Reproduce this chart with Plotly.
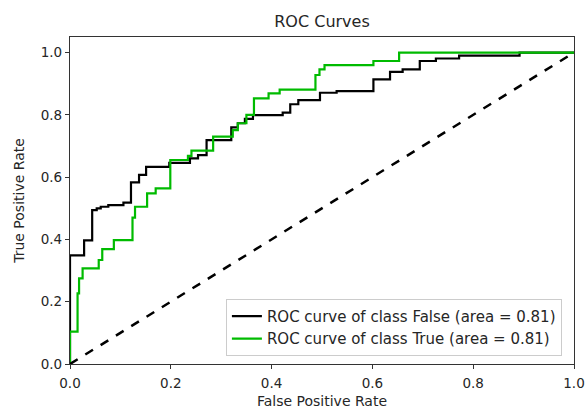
import plotly.graph_objects as go

# ROC curve of class False
fpr_false = [0, 0, 0.028, 0.044, 0.053, 0.061, 0.076, 0.106, 0.121, 0.137, 0.151, 0.197,
             0.238, 0.254, 0.271, 0.32, 0.333, 0.347, 0.363, 0.422, 0.437, 0.453, 0.496,
             0.529, 0.602, 0.635, 0.66, 0.694, 0.726, 0.772, 0.892, 1.0]
tpr_false = [0, 0.349, 0.397, 0.494, 0.5, 0.505, 0.51, 0.518, 0.583, 0.607, 0.633, 0.646,
             0.66, 0.671, 0.719, 0.76, 0.773, 0.787, 0.799, 0.807, 0.834, 0.847, 0.871,
             0.876, 0.914, 0.938, 0.946, 0.973, 0.981, 0.99, 1.0, 1.0]

# ROC curve of class True
fpr_true = [0, 0, 0.015, 0.018, 0.025, 0.057, 0.064, 0.087, 0.124, 0.129, 0.153, 0.17,
            0.199, 0.234, 0.241, 0.284, 0.323, 0.333, 0.35, 0.365, 0.394, 0.416, 0.487,
            0.495, 0.505, 0.602, 0.653, 1.0]
tpr_true = [0, 0.104, 0.227, 0.275, 0.307, 0.334, 0.369, 0.398, 0.47, 0.505, 0.548, 0.564,
            0.655, 0.668, 0.685, 0.73, 0.751, 0.773, 0.8, 0.853, 0.869, 0.881, 0.928,
            0.946, 0.96, 0.973, 1.0, 1.0]

diag = [0, 1]
names = ["ROC curve of class False (area = 0.81)", "ROC curve of class True (area = 0.81)"]
colors = ["#000000", "#00bb00"]
ticks = [0, 0.2, 0.4, 0.6, 0.8, 1.0]
tick_text = ["0.0", "0.2", "0.4", "0.6", "0.8", "1.0"]

fig = go.Figure()
fig.add_trace(go.Scatter(x=fpr_false, y=tpr_false, mode="lines", line_shape="hv",
                         line=dict(color=colors[0], width=2.2), name=names[0]))
fig.add_trace(go.Scatter(x=fpr_true, y=tpr_true, mode="lines", line_shape="hv",
                         line=dict(color=colors[1], width=2.2), name=names[1]))
fig.add_trace(go.Scatter(x=diag, y=diag, mode="lines",
                         line=dict(color="#000000", width=2.5, dash="dash"),
                         showlegend=False))

W, H = 586, 410
font_family = "DejaVu Sans"
fig.update_layout(
    width=W, height=H,
    margin=dict(l=70, r=12, t=37, b=46, autoexpand=False),
    paper_bgcolor="white", plot_bgcolor="white",
    font=dict(family=font_family, size=13.5, color="#262626"),
    title=dict(text="ROC Curves", x=(70 + 574) / 2 / W, xanchor="center",
               y=1 - 21 / H, yanchor="middle", yref="container",
               font=dict(size=16, color="#262626")),
    showlegend=True,
    legend=dict(x=0.976, y=0.025, xanchor="right", yanchor="bottom",
                bgcolor="rgba(255,255,255,0.8)", bordercolor="#cccccc", borderwidth=1,
                font=dict(size=15, color="#262626"), tracegroupgap=0,
                itemwidth=30),
)
fig.update_xaxes(range=[0, 1], tickvals=ticks, ticktext=tick_text, automargin=False,
                 showgrid=False, zeroline=False, showline=True, mirror=True,
                 linecolor="#333333", linewidth=1.2, ticks="outside", ticklen=4,
                 tickcolor="#333333", ticklabelstandoff=3,
                 title=dict(text="False Positive Rate", standoff=5, font=dict(size=14)))
fig.update_yaxes(range=[0, 1.05], tickvals=ticks, ticktext=tick_text, automargin=False,
                 showgrid=False, zeroline=False, showline=True, mirror=True,
                 linecolor="#333333", linewidth=1.2, ticks="outside", ticklen=4,
                 tickcolor="#333333",
                 title=dict(text="True Positive Rate", standoff=12, font=dict(size=14)))

fig.write_html("out.html", config={"displayModeBar": False},
               post_script="document.body.style.margin='0';document.body.style.overflow='hidden';")
